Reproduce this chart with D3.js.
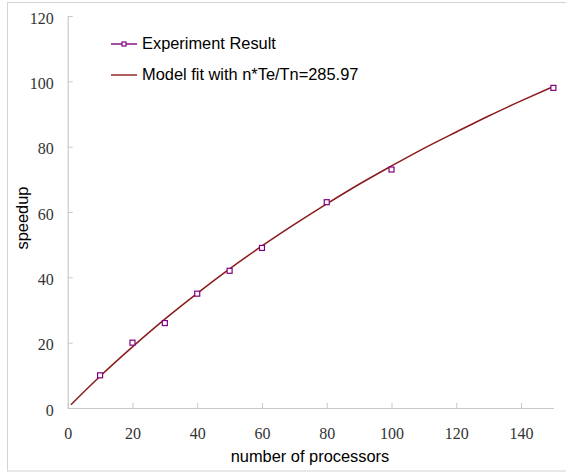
<!DOCTYPE html>
<html>
<head>
<meta charset="utf-8">
<script src="https://cdn.jsdelivr.net/npm/d3@7/dist/d3.min.js"></script>
<style>
  html, body { margin: 0; padding: 0; background: #fff; }
  svg { display: block; }
</style>
</head>
<body>
<svg id="chart" width="566" height="473"></svg>
<script>
// ---- data ----
const expProcessors = [10, 20, 30, 40, 50, 60, 80, 100, 150];
const expSpeedup    = [10, 20, 26, 35, 42, 49, 63, 73, 98];

const fitProcessors = [1, 10, 20, 30, 40, 50, 60, 70, 80, 90, 100, 110, 120, 130, 140, 150];
const fitSpeedup    = [1, 9.7, 18.7, 27.2, 35.1, 42.6, 49.6, 56.2, 62.5, 68.5, 74.1, 79.5, 84.5, 89.4, 94.0, 98.4];

const xTicks = [0, 20, 40, 60, 80, 100, 120, 140];
const yTicks = [0, 20, 40, 60, 80, 100, 120];

const legendLabels = ["Experiment Result", "Model fit with n*Te/Tn=285.97"];
const xTitle = "number of processors";
const yTitle = "speedup";

// ---- layout ----
const svg = d3.select("#chart");
const plot = { left: 67.7, right: 553.4, top: 16, bottom: 408 };

const axisColor = "#c8c8c8";
const expColor = "#800080";
const fitColor = "#8b1a1a";
const serif = "Liberation Serif";
const sans = "Liberation Sans";

// outer frame
svg.append("rect")
  .attr("x", 7.5).attr("y", 2.5)
  .attr("width", 570).attr("height", 468.5)
  .attr("fill", "none").attr("stroke", "#d4d4d4").attr("stroke-width", 1);

const x = d3.scaleLinear().domain([0, 150]).range([plot.left, plot.right]);
const y = d3.scaleLinear().domain([0, 120]).range([plot.bottom, plot.top]);

// x axis
const gx = svg.append("g")
  .attr("transform", `translate(0,${plot.bottom})`)
  .call(d3.axisBottom(x).tickValues(xTicks).tickSizeInner(-5).tickSizeOuter(0).tickPadding(20));
// y axis
const gy = svg.append("g")
  .attr("transform", `translate(${plot.left},0)`)
  .call(d3.axisLeft(y).tickValues(yTicks).tickSizeInner(-5).tickSizeOuter(0).tickPadding(14));

[gx, gy].forEach(g => {
  g.attr("font-family", serif).attr("font-size", 16);
  g.select(".domain").attr("stroke", axisColor).attr("stroke-width", 1.2);
  g.selectAll(".tick line").attr("stroke", axisColor).attr("stroke-width", 1);
  g.selectAll(".tick text")
    .attr("fill", "#333")
    .attr("font-family", serif)
    .attr("font-size", 16);
});
gy.selectAll(".tick text").attr("dy", "0.45em");

// axis titles
svg.append("text")
  .attr("x", 310).attr("y", 461.5)
  .attr("text-anchor", "middle")
  .attr("font-family", sans)
  .attr("font-size", 16.4)
  .attr("fill", "#000")
  .text(xTitle);

svg.append("text")
  .attr("transform", "translate(28,218) rotate(-90)")
  .attr("text-anchor", "middle")
  .attr("font-family", sans)
  .attr("font-size", 16.4)
  .attr("fill", "#000")
  .text(yTitle);

// model fit line
const fitData = fitProcessors.map((n, i) => ({ n, s: fitSpeedup[i] }));
const line = d3.line().x(d => x(d.n)).y(d => y(d.s)).curve(d3.curveMonotoneX);
svg.append("path")
  .datum(fitData)
  .attr("d", line)
  .attr("fill", "none")
  .attr("stroke", fitColor)
  .attr("stroke-width", 1.5);

// experiment markers
const expData = expProcessors.map((n, i) => ({ n, s: expSpeedup[i] }));
svg.append("g").selectAll("rect")
  .data(expData)
  .join("rect")
  .attr("x", d => x(d.n) - 2.5)
  .attr("y", d => y(d.s) - 2.5)
  .attr("width", 5).attr("height", 5)
  .attr("fill", "#fff")
  .attr("stroke", expColor)
  .attr("stroke-width", 1.2);

// legend
const legend = svg.append("g");
const rows = [
  { label: legendLabels[0], color: expColor, marker: true, ly: 44, ty: 48.5 },
  { label: legendLabels[1], color: fitColor, marker: false, ly: 75, ty: 80 }
];
rows.forEach(r => {
  legend.append("line")
    .attr("x1", 111).attr("x2", 137)
    .attr("y1", r.ly).attr("y2", r.ly)
    .attr("stroke", r.color).attr("stroke-width", 1.4);
  if (r.marker) {
    legend.append("rect")
      .attr("x", 124 - 2).attr("y", r.ly - 2)
      .attr("width", 4).attr("height", 4)
      .attr("fill", "#fff").attr("stroke", r.color).attr("stroke-width", 1.2);
  }
  legend.append("text")
    .attr("x", 142).attr("y", r.ty)
    .attr("font-family", sans)
    .attr("font-size", 16.4)
    .attr("fill", "#000")
    .text(r.label);
});
</script>
</body>
</html>
